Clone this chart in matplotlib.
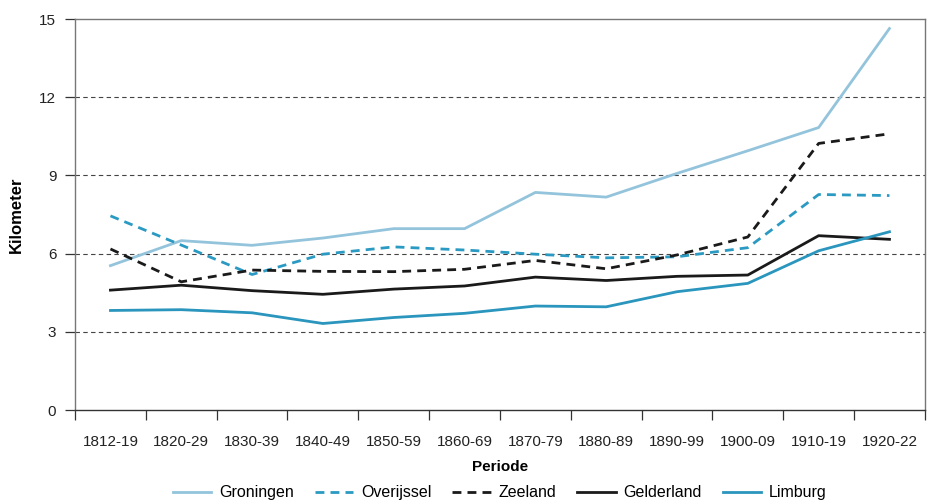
# -*- coding: utf-8 -*-
# plot.py - gemiddelde afstand per provincie (km), 1812-1922

import numpy as np
import matplotlib
matplotlib.use('Agg')
import matplotlib.pyplot as plt


#%% Data

periods = ['1812-19', '1820-29', '1830-39', '1840-49', '1850-59', '1860-69',
           '1870-79', '1880-89', '1890-99', '1900-09', '1910-19', '1920-22']

groningen = [5.54, 6.50, 6.32, 6.60, 6.96, 6.96, 8.35, 8.17, 9.08, 9.95, 10.84, 14.64]
overijssel = [7.45, 6.33, 5.20, 5.98, 6.26, 6.14, 5.98, 5.84, 5.88, 6.23, 8.27, 8.23]
zeeland = [6.18, 4.92, 5.37, 5.32, 5.31, 5.40, 5.74, 5.42, 5.95, 6.64, 10.23, 10.60]
gelderland = [4.60, 4.79, 4.58, 4.44, 4.64, 4.76, 5.10, 4.97, 5.13, 5.18, 6.69, 6.55]
limburg = [3.82, 3.85, 3.73, 3.32, 3.55, 3.71, 3.99, 3.96, 4.54, 4.86, 6.11, 6.84]

y_ticks = [0, 3, 6, 9, 12, 15]


#%% Plot

plt.rcParams['font.family'] = ['Liberation Sans', 'DejaVu Sans']

fig = plt.figure(figsize=(9.38, 5.04), dpi=100)
ax = fig.add_axes([0.08, 0.1865, 0.906, 0.7755])

x = np.arange(len(periods))
lw = 2.0
dash = (0, (3.2, 2.2))

ax.plot(x, groningen, color='#93c4dc', lw=lw, label='Groningen')
ax.plot(x, overijssel, color='#2b9ac2', lw=lw, linestyle=dash, label='Overijssel')
ax.plot(x, zeeland, color='#1a1a1a', lw=lw, linestyle=dash, label='Zeeland')
ax.plot(x, gelderland, color='#1a1a1a', lw=lw, label='Gelderland')
ax.plot(x, limburg, color='#2a95bd', lw=lw, label='Limburg')

# grid
for yv in y_ticks[1:-1]:
    ax.axhline(yv, color='#444444', lw=0.8, linestyle=(0, (4, 3)), zorder=0)

ax.set_xlim(-0.5, len(periods) - 0.5)
ax.set_ylim(0, 15)
ax.set_yticks(y_ticks)

# tick marks at category boundaries, labels centred
ax.set_xticks(np.arange(len(periods) + 1) - 0.5)
ax.set_xticklabels([])
ax.set_xticks(x, minor=True)
ax.set_xticklabels(periods, minor=True)
ax.tick_params(axis='x', which='major', length=7.5, width=0.9, color='#333333')
ax.tick_params(axis='x', which='minor', length=0, pad=18, labelsize=11,
               labelcolor='#222222')
ax.tick_params(axis='y', length=7.5, width=0.9, color='#333333', pad=6,
               labelsize=11, labelcolor='#222222')

for side in ['top', 'right', 'left']:
    ax.spines[side].set_color('#777777')
    ax.spines[side].set_linewidth(1.0)
ax.spines['bottom'].set_color('#333333')
ax.spines['bottom'].set_linewidth(1.0)

ax.set_ylabel('Kilometer', fontsize=12, fontweight='bold', labelpad=11)
ax.set_xlabel('Periode', fontsize=11, fontweight='bold', labelpad=8)

ax.legend(loc='center', bbox_to_anchor=(0.50, -0.212), ncol=5,
          frameon=False, fontsize=11.5, handlelength=2.4, columnspacing=1.3,
          handletextpad=0.5, borderpad=0.1)

fig.savefig('out.png', dpi=100)
